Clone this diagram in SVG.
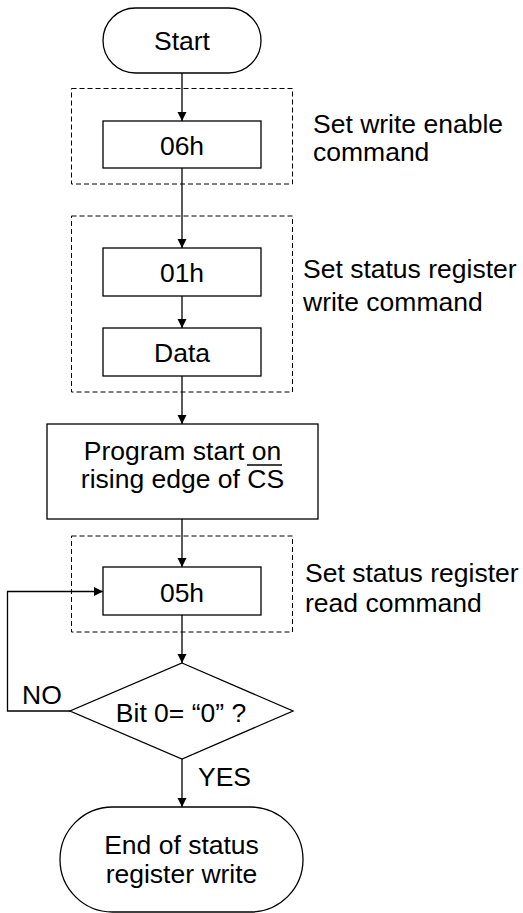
<svg xmlns="http://www.w3.org/2000/svg" width="523" height="913" viewBox="0 0 523 913">
<defs>
<marker id="ah" markerWidth="10" markerHeight="10" refX="9" refY="4.5" orient="auto" markerUnits="userSpaceOnUse">
<path d="M0,0 L9,4.5 L0,9 Z" fill="#000"/>
</marker>
<style>
.box{fill:#fff;stroke:#000;stroke-width:1.3}
.grp{fill:none;stroke:#000;stroke-width:1;stroke-dasharray:5,3}
.ln{fill:none;stroke:#000;stroke-width:1.3}
.t{font-family:"Liberation Sans",Arial,sans-serif;font-size:26.5px;fill:#000}
.c{text-anchor:middle}
</style>
</defs>
<rect width="523" height="913" fill="#fff"/>
<g id="groups">
<rect class="grp" x="71.5" y="88.5" width="221" height="95.5"/>
<rect class="grp" x="71.5" y="216" width="221" height="176"/>
<rect class="grp" x="71.5" y="536" width="221" height="96"/>
</g>
<g id="connectors">
<line class="ln" x1="182" y1="73" x2="182" y2="121" marker-end="url(#ah)"/>
<line class="ln" x1="182" y1="168" x2="182" y2="248" marker-end="url(#ah)"/>
<line class="ln" x1="182" y1="296" x2="182" y2="328" marker-end="url(#ah)"/>
<line class="ln" x1="182" y1="376" x2="182" y2="424" marker-end="url(#ah)"/>
<line class="ln" x1="182" y1="519" x2="182" y2="567" marker-end="url(#ah)"/>
<line class="ln" x1="182" y1="615" x2="182" y2="663" marker-end="url(#ah)"/>
<line class="ln" x1="182" y1="759" x2="182" y2="807" marker-end="url(#ah)"/>
<polyline class="ln" points="70,711 7.5,711 7.5,591.5 103,591.5" marker-end="url(#ah)"/>
</g>
<g id="start">
<rect class="box" x="103" y="8" width="158" height="65" rx="32.5"/>
<text class="t c" x="182" y="50">Start</text>
</g>
<g id="n06h">
<rect class="box" x="103" y="121" width="158" height="47"/>
<text class="t c" x="182" y="155">06h</text>
</g>
<g id="n01h">
<rect class="box" x="103" y="248" width="158" height="48"/>
<text class="t c" x="182" y="282">01h</text>
</g>
<g id="data">
<rect class="box" x="103" y="328" width="158" height="48"/>
<text class="t c" x="182" y="362">Data</text>
</g>
<g id="program">
<rect class="box" x="47" y="424" width="271" height="95"/>
<text class="t c" x="182.5" y="460">Program start on</text>
<text class="t c" x="182.5" y="488">rising edge of CS</text>
<line x1="247" y1="465" x2="282" y2="465" stroke="#000" stroke-width="1.3"/>
</g>
<g id="n05h">
<rect class="box" x="103" y="567" width="158" height="48"/>
<text class="t c" x="182" y="602">05h</text>
</g>
<g id="decision">
<polygon class="box" points="182,663 293,711 182,759 70,711"/>
<text class="t c" x="181" y="722">Bit 0= “0” ?</text>
</g>
<g id="end">
<rect class="box" x="60" y="807" width="243" height="105" rx="52.5"/>
<text class="t c" x="181.5" y="854">End of status</text>
<text class="t c" x="181.5" y="883">register write</text>
</g>
<g id="labels">
<text class="t" x="22" y="704">NO</text>
<text class="t" x="198" y="786">YES</text>
<text class="t" x="313" y="133">Set write enable</text>
<text class="t" x="313" y="161">command</text>
<text class="t" x="303" y="278">Set status register</text>
<text class="t" x="303" y="311">write command</text>
<text class="t" x="305" y="582">Set status register</text>
<text class="t" x="305" y="612">read command</text>
</g>
</svg>
